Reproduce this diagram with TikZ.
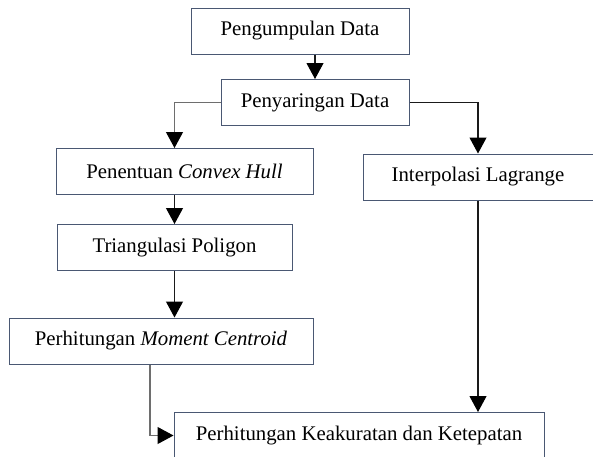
\documentclass[tikz,border=0pt]{standalone}
\usepackage{fontspec}
\setmainfont{Liberation Serif}
\usepackage{xcolor}
\usepackage{tikz}
\usetikzlibrary{arrows.meta,positioning,calc}
\definecolor{boxedge}{HTML}{4A5873}
\definecolor{wire}{HTML}{1A1A1A}
\definecolor{wiregrey}{HTML}{6E6E6E}

\begin{document}
\begin{tikzpicture}[
  x=1pt, y=-1pt,
  font=\fontsize{20.8}{24}\selectfont,
  box/.style={draw=boxedge, fill=white, line width=1pt,
              minimum height=46pt, align=center, inner sep=2pt},
  conn/.style={draw=wire, line width=1.1pt,
               -{Triangle[length=16pt,width=17pt,black]}},
  conngrey/.style={conn, draw=wiregrey}
]
\useasboundingbox (0,0) rectangle (593,456);

% ---- process boxes ------------------------------------------------------
\node[box, minimum width=218pt] (peng) at (300, 31)    {Pengumpulan Data};
\node[box, minimum width=188pt] (sar)  at (315, 102.5) {Penyaringan Data};
\node[box, minimum width=257pt] (hull) at (184.5, 171.5) {Penentuan \textit{Convex Hull}};
\node[box, minimum width=230pt] (lag)  at (478, 177)   {Interpolasi Lagrange};
\node[box, minimum width=235pt] (tri)  at (174.5, 247.5) {Triangulasi Poligon};
\node[box, minimum width=304pt] (mom)  at (161, 341)   {Perhitungan \textit{Moment Centroid}};
\node[box, minimum width=370pt] (keak) at (359, 435.5) {Perhitungan Keakuratan dan Ketepatan};

% ---- flow ---------------------------------------------------------------
\draw[conn] (sar.north |- peng.south) -- (sar.north);
\draw[conngrey] (sar.west) -| (tri.north |- hull.north);
\draw[conn] (sar.east) -| (lag.north);
\draw[conn] (tri.north |- hull.south) -- (tri.north);
\draw[conn] (tri.south) -- (tri.south |- mom.north);
\draw[conngrey] ([xshift=-11pt]mom.south) |- (keak.west);
\draw[conn] (lag.south) -- (lag.south |- keak.north);

\end{tikzpicture}
\end{document}
